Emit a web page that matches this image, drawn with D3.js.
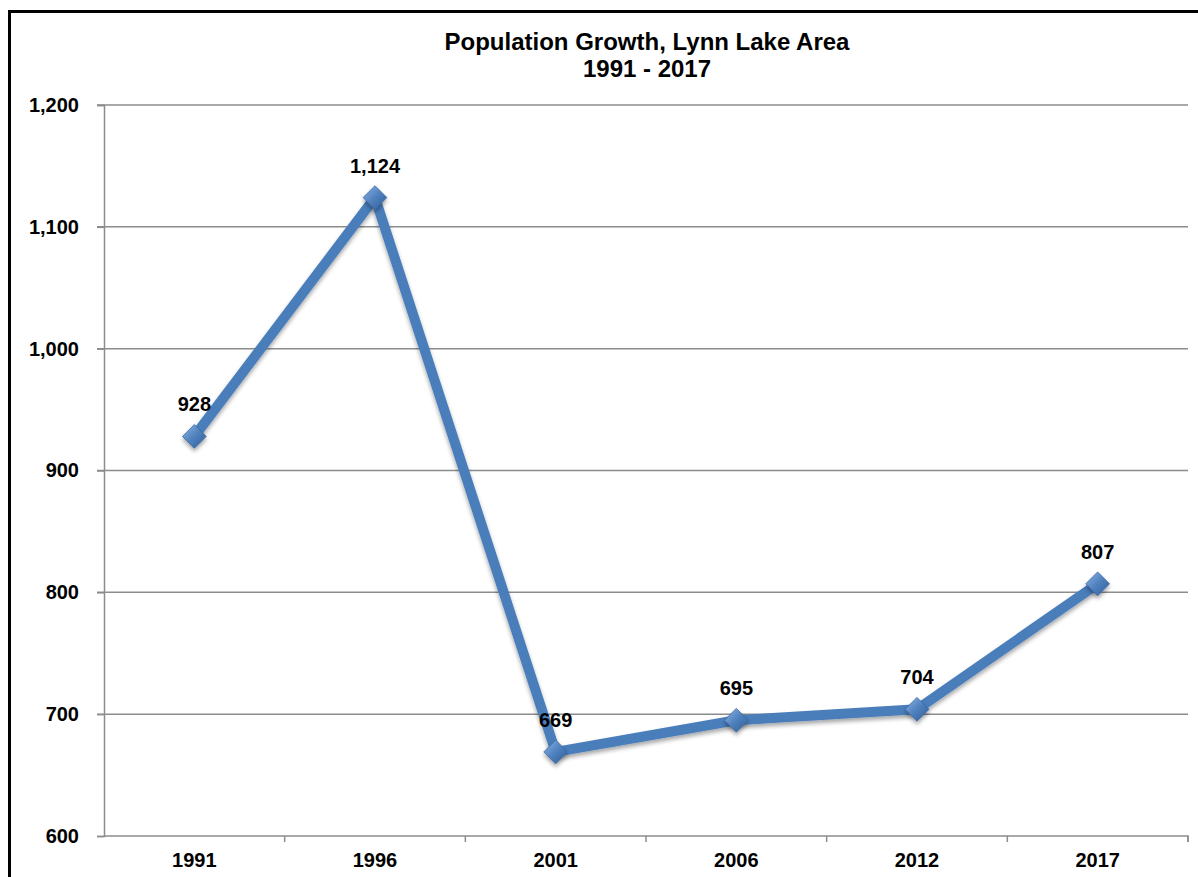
<!DOCTYPE html>
<html>
<head>
<meta charset="utf-8">
<script src="https://cdn.jsdelivr.net/npm/d3@7"></script>
<style>
	html, body {
		margin: 0;
		padding: 0;
		background: #fff;
	}
	svg {
		display: block;
		font-family: "Liberation Sans", Arial, sans-serif;
	}
</style>
</head>
<body>
<div id="chart"></div>
<script>
const years = ['1991', '1996', '2001', '2006', '2012', '2017'];
const population = [928, 1124, 669, 695, 704, 807];
const yTicks = [600, 700, 800, 900, 1000, 1100, 1200];
const titleLines = ['Population Growth, Lynn Lake Area', '1991 - 2017'];

const width = 1198;
const height = 877;
const margin = {top: 105, right: 10, bottom: 41, left: 104};

const svg = d3
	.select('#chart')
	.append('svg')
	.attr('width', width)
	.attr('height', height);

// Outer chart frame, runs past the right and bottom edges
svg.append('rect')
	.attr('x', 9.5)
	.attr('y', 11.5)
	.attr('width', width + 20)
	.attr('height', height + 20)
	.attr('fill', '#fff')
	.attr('stroke', '#000')
	.attr('stroke-width', 3);

const defs = svg.append('defs');
const grad = defs
	.append('linearGradient')
	.attr('id', 'markerFill')
	.attr('x1', '0%')
	.attr('y1', '0%')
	.attr('x2', '100%')
	.attr('y2', '100%');
grad.append('stop').attr('offset', '0%').attr('stop-color', '#8db4e6');
grad.append('stop').attr('offset', '50%').attr('stop-color', '#4f81bd');
grad.append('stop').attr('offset', '100%').attr('stop-color', '#2f5d99');

const shadow = defs
	.append('filter')
	.attr('id', 'shadow')
	.attr('x', '-50%')
	.attr('y', '-50%')
	.attr('width', '200%')
	.attr('height', '200%');
shadow.append('feGaussianBlur').attr('in', 'SourceAlpha').attr('stdDeviation', 2);
shadow.append('feOffset').attr('dx', 0).attr('dy', 3).attr('result', 'blur');
shadow.append('feComponentTransfer').append('feFuncA').attr('type', 'linear').attr('slope', 0.35);
const merge = shadow.append('feMerge');
merge.append('feMergeNode');
merge.append('feMergeNode').attr('in', 'SourceGraphic');

const x = d3
	.scaleBand()
	.domain(years)
	.range([margin.left, width - margin.right]);

const y = d3
	.scaleLinear()
	.domain([600, 1200])
	.range([height - margin.bottom, margin.top]);

// Title
svg.append('text')
	.attr('text-anchor', 'middle')
	.attr('font-size', 24)
	.attr('font-weight', 'bold')
	.selectAll('tspan')
	.data(titleLines)
	.join('tspan')
	.attr('x', 647)
	.attr('y', (d, i) => 50 + i * 27)
	.text(d => d);

// Horizontal gridlines
svg.append('g')
	.selectAll('line')
	.data(yTicks.filter(d => d !== 600))
	.join('line')
	.attr('x1', margin.left - 7)
	.attr('x2', width - margin.right)
	.attr('y1', d => y(d))
	.attr('y2', d => y(d))
	.attr('stroke', '#8c8c8c')
	.attr('stroke-width', 1.5);

// Y axis
const yAxis = svg
	.append('g')
	.attr('transform', `translate(${margin.left},0)`)
	.call(
		d3.axisLeft(y)
			.tickValues(yTicks)
			.tickSize(7)
			.tickPadding(18)
			.tickFormat(d3.format(','))
	);

// X axis
const xAxis = svg
	.append('g')
	.attr('transform', `translate(0,${height - margin.bottom})`)
	.call(d3.axisBottom(x).tickSize(0).tickPadding(17));

xAxis.selectAll('.tick')
	.append('line')
	.attr('x1', x.bandwidth() / 2)
	.attr('x2', x.bandwidth() / 2)
	.attr('y2', 6);

[yAxis, xAxis].forEach(axis => {
	axis.select('.domain').attr('stroke', '#8c8c8c').attr('stroke-width', 1.5);
	axis.selectAll('.tick line').attr('stroke', '#8c8c8c').attr('stroke-width', 1.5);
	axis.selectAll('.tick text')
		.attr('font-size', 20)
		.attr('font-weight', 'bold')
		.attr('fill', '#000')
		.attr('font-family', '"Liberation Sans", Arial, sans-serif');
});
xAxis.select('.domain').attr('d', `M${margin.left},0H${width - margin.right}V6`);

const cx = d => x(d) + x.bandwidth() / 2;

// Series line
const line = d3
	.line()
	.x((d, i) => cx(years[i]))
	.y(d => y(d));

svg.append('path')
	.datum(population)
	.attr('d', line)
	.attr('fill', 'none')
	.attr('stroke', '#4a7ebb')
	.attr('stroke-width', 10)
	.attr('stroke-linejoin', 'round')
	.attr('filter', 'url(#shadow)');

// Diamond markers
const diamond = d3.symbol().type(d3.symbolDiamond2).size(360);
svg.append('g')
	.selectAll('path')
	.data(population)
	.join('path')
	.attr('d', diamond)
	.attr('transform', (d, i) => `translate(${cx(years[i])},${y(d)})`)
	.attr('fill', 'url(#markerFill)')
	.attr('stroke', '#3c6aa6')
	.attr('stroke-width', 0.8)
	.attr('filter', 'url(#shadow)');

// Data labels
svg.append('g')
	.selectAll('text')
	.data(population)
	.join('text')
	.attr('x', (d, i) => cx(years[i]))
	.attr('y', d => y(d) - 25)
	.attr('text-anchor', 'middle')
	.attr('font-size', 20)
	.attr('font-weight', 'bold')
	.text(d => d3.format(',')(d));
</script>
</body>
</html>
